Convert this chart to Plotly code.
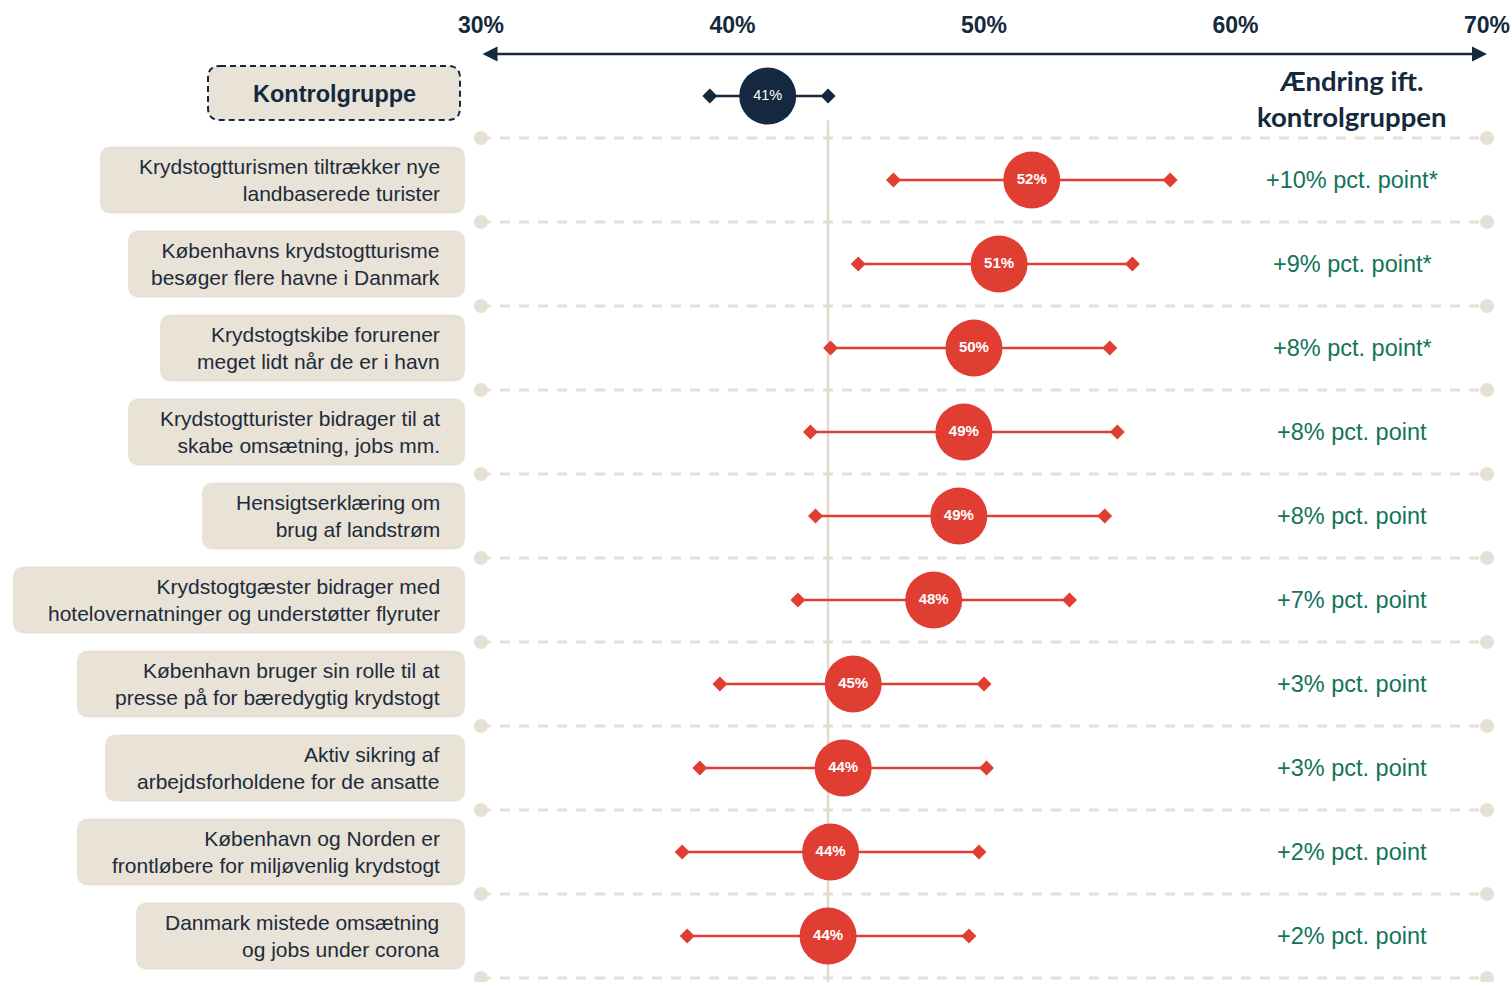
import plotly.graph_objects as go

# ---------------- data ----------------
categories = [
    "Krydstogtturismen tiltrækker nye<br>landbaserede turister",
    "Københavns krydstogtturisme<br>besøger flere havne i Danmark",
    "Krydstogtskibe forurener<br>meget lidt når de er i havn",
    "Krydstogtturister bidrager til at<br>skabe omsætning, jobs mm.",
    "Hensigtserklæring om<br>brug af landstrøm",
    "Krydstogtgæster bidrager med<br>hotelovernatninger og understøtter flyruter",
    "København bruger sin rolle til at<br>presse på for bæredygtig krydstogt",
    "Aktiv sikring af<br>arbejdsforholdene for de ansatte",
    "København og Norden er<br>frontløbere for miljøvenlig krydstogt",
    "Danmark mistede omsætning<br>og jobs under corona",
]
estimates = [51.9, 50.6, 49.6, 49.2, 49.0, 48.0, 44.8, 44.4, 43.9, 43.8]
ci_low = [46.4, 45.0, 43.9, 43.1, 43.3, 42.6, 39.5, 38.7, 38.0, 38.2]
ci_high = [57.4, 55.9, 55.0, 55.3, 54.8, 53.4, 50.0, 50.1, 49.8, 49.4]
change_labels = [
    "+10% pct. point*", "+9% pct. point*", "+8% pct. point*", "+8% pct. point",
    "+8% pct. point", "+7% pct. point", "+3% pct. point", "+3% pct. point",
    "+2% pct. point", "+2% pct. point",
]
control_label = "Kontrolgruppe"
control_estimate = 41.4
control_low = 39.1
control_high = 43.8
x_ticks = [30, 40, 50, 60, 70]
x_tick_labels = ["30%", "40%", "50%", "60%", "70%"]
header = "Ændring ift.<br>kontrolgruppen"

# ---------------- layout / style ----------------
W, H = 1512, 982
NAVY = "#14293d"
RED = "#e03e33"
BEIGE = "#e8e2d7"
LINE_BEIGE = "#e6dfd3"
GREEN = "#12735a"
TEXT = "#1d2b3a"
FONT = "Liberation Sans, Arial, sans-serif"

X_RANGE = [29.5, 70.5]
X_DOMAIN = [468.4 / W, 1499.6 / W]
Y_TOP, Y_BOT = -96 / 84, 886 / 84          # row index at top / bottom of page
label_box_left = [100, 128, 160, 128, 202, 13, 77, 105, 77, 136]   # px
BOX_RIGHT = 465
CENTER_COL = 1352


def y_px(y):
    return (y - Y_TOP) / (Y_BOT - Y_TOP) * H


def px_paper(x, y):
    return x / W, 1 - y / H


def rrect(x0, x1, y0, y1, r):
    def p(x, y):
        a, b = px_paper(x, y)
        return f"{a:.5f},{b:.5f}"
    return (f"M {p(x0 + r, y0)} L {p(x1 - r, y0)} Q {p(x1, y0)} {p(x1, y0 + r)} "
            f"L {p(x1, y1 - r)} Q {p(x1, y1)} {p(x1 - r, y1)} "
            f"L {p(x0 + r, y1)} Q {p(x0, y1)} {p(x0, y1 - r)} "
            f"L {p(x0, y0 + r)} Q {p(x0, y0)} {p(x0 + r, y0)} Z")


rows = list(range(1, len(categories) + 1))

fig = go.Figure()

# dashed separators with end dots
sx, sy = [], []
for k in range(0, len(categories) + 1):
    sx += [x_ticks[0], x_ticks[-1], None]
    sy += [k + 0.5, k + 0.5, None]
fig.add_trace(go.Scatter(
    x=sx, y=sy, mode="lines+markers", cliponaxis=False, hoverinfo="skip",
    line=dict(color=LINE_BEIGE, width=3, dash="10px,9px"),
    marker=dict(color=LINE_BEIGE, size=14)))

# reference line at control upper bound
fig.add_trace(go.Scatter(
    x=[control_high, control_high], y=[0.29, Y_BOT], mode="lines",
    line=dict(color="#e2dacd", width=2.5), hoverinfo="skip", cliponaxis=False))

# control group
fig.add_trace(go.Scatter(
    x=[control_low, control_high], y=[0, 0], mode="lines+markers", cliponaxis=False,
    line=dict(color=NAVY, width=2.5),
    marker=dict(symbol="diamond", size=11.5, color=NAVY)))
fig.add_trace(go.Scatter(
    x=[control_estimate], y=[0], mode="markers+text", cliponaxis=False,
    marker=dict(size=57, color=NAVY),
    text=[f"{control_estimate:.0f}%"], textposition="middle center",
    textfont=dict(color="white", size=14.5, family=FONT)))

# rows error bars
ex, ey = [], []
for lo, hi, r in zip(ci_low, ci_high, rows):
    ex += [lo, hi, None]
    ey += [r, r, None]
fig.add_trace(go.Scatter(
    x=ex, y=ey, mode="lines+markers", cliponaxis=False,
    line=dict(color=RED, width=2.5),
    marker=dict(symbol="diamond", size=11.5, color=RED)))
fig.add_trace(go.Scatter(
    x=estimates, y=rows, mode="markers+text", cliponaxis=False,
    marker=dict(size=57, color=RED),
    text=[f"<b>{v:.0f}%</b>" for v in estimates], textposition="middle center",
    textfont=dict(color="white", size=15, family=FONT)))

shapes = []
annotations = []

# control box
shapes.append(dict(type="path", xref="paper", yref="paper",
                   path=rrect(208, 460, y_px(0) - 30, y_px(0) + 24, 12),
                   fillcolor=BEIGE, line=dict(color=NAVY, width=2, dash="6px,4px"),
                   layer="below"))
annotations.append(dict(xref="paper", yref="y", x=334 / W, y=0, yshift=2,
                        text=f"<b>{control_label}</b>", showarrow=False,
                        xanchor="center", font=dict(family=FONT, size=23.5, color=NAVY)))

# category boxes and labels
for cat, left, r in zip(categories, label_box_left, rows):
    c = y_px(r)
    shapes.append(dict(type="path", xref="paper", yref="paper",
                       path=rrect(left, BOX_RIGHT, c - 33.5, c + 33.5, 12),
                       fillcolor=BEIGE, line=dict(width=0), layer="below"))
    annotations.append(dict(xref="paper", yref="y", x=(BOX_RIGHT - 23) / W, y=r,
                            text=cat, showarrow=False, xanchor="right", align="right",
                            font=dict(family=FONT, size=21, color=TEXT)))

# change labels
for lab, r in zip(change_labels, rows):
    annotations.append(dict(xref="paper", yref="y", x=CENTER_COL / W, y=r,
                            text=lab, showarrow=False, xanchor="center",
                            font=dict(family=FONT, size=23.5, color=GREEN)))

# header
annotations.append(dict(xref="paper", yref="paper", x=CENTER_COL / W, y=1 - 98 / H,
                        text=f"<b>{header}</b>", showarrow=False, xanchor="center",
                        yanchor="middle", align="center",
                        font=dict(family="Lato, sans-serif", size=27.5, color=NAVY)))

# double-headed axis arrow
annotations.append(dict(xref="x", yref="y", axref="x", ayref="y",
                        x=x_ticks[-1], y=-0.5, ax=x_ticks[0], ay=-0.5,
                        text="", showarrow=True, arrowside="end+start",
                        arrowhead=2, arrowsize=1.2, arrowwidth=2.5, arrowcolor=NAVY,
                        standoff=0, startstandoff=0))

fig.update_layout(
    template="none",
    width=W, height=H, margin=dict(l=0, r=0, t=0, b=0, pad=0, autoexpand=False),
    paper_bgcolor="white", plot_bgcolor="white", showlegend=False,
    hovermode=False,
    xaxis=dict(range=X_RANGE, domain=X_DOMAIN, side="top", anchor="free",
               position=1 - 38 / H, tickvals=x_ticks, automargin=False,
               ticktext=[f"<b>{t}</b>" for t in x_tick_labels],
               tickfont=dict(family=FONT, size=23, color=NAVY),
               showgrid=False, zeroline=False, showline=False, ticks=""),
    yaxis=dict(range=[Y_BOT, Y_TOP], domain=[0, 1], visible=False, automargin=False,
               showgrid=False, zeroline=False),
    shapes=shapes, annotations=annotations,
)

fig.write_html(
    "out.html",
    config={"displayModeBar": False},
    post_script="document.body.style.margin='0px';document.body.style.overflow='hidden';",
)
